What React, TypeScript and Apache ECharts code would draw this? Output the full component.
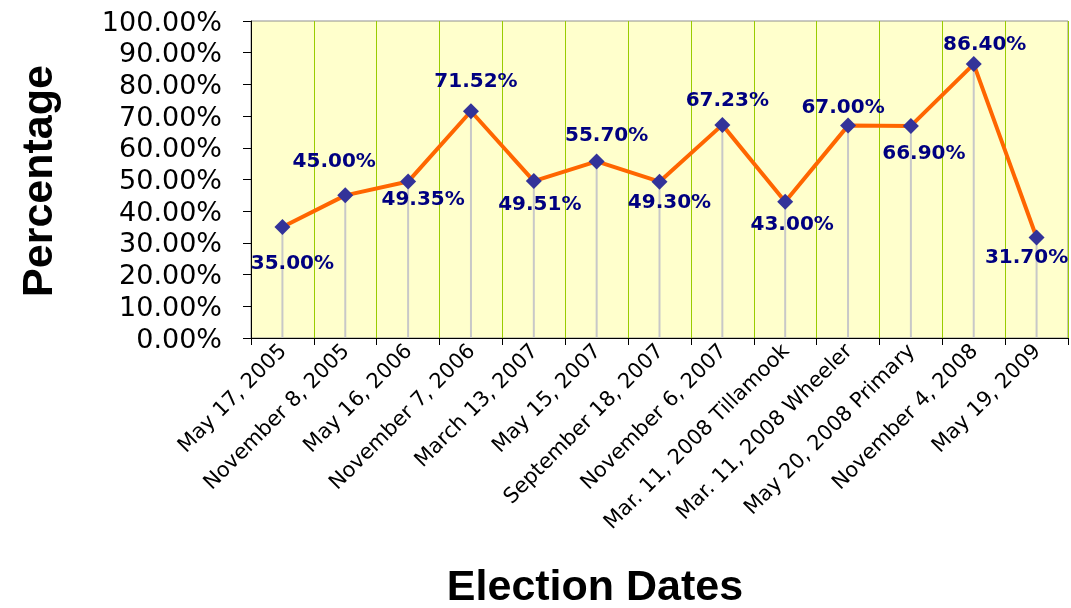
import React, { useEffect, useRef } from "react";
import * as echarts from "echarts";

const categories = [
  "May 17, 2005",
  "November 8, 2005",
  "May 16, 2006",
  "November 7, 2006",
  "March 13, 2007",
  "May 15, 2007",
  "September 18, 2007",
  "November 6, 2007",
  "Mar. 11, 2008 Tillamook",
  "Mar. 11, 2008 Wheeler",
  "May 20, 2008 Primary",
  "November 4, 2008",
  "May 19, 2009",
];

const turnout = [35.0, 45.0, 49.35, 71.52, 49.51, 55.7, 49.3, 67.23, 43.0, 67.0, 66.9, 86.4, 31.7];

const labelOffsets: [number, number][] = [
  [10, 35], [-11, -35], [15, 16], [5, -31], [6, 22], [10, -27], [10, 19],
  [5, -26], [7, 21], [-5, -20], [13, 26], [11, -21], [-10, 18],
];

const yTicks = { min: 0, max: 100, interval: 10 };

export default function App() {
  const ref = useRef<HTMLDivElement>(null);
  useEffect(() => {
    if (!ref.current) return;
    const chart = echarts.init(ref.current, null, { renderer: "svg" });
    const fontFamily = "'DejaVu Sans', 'Liberation Sans', Arial, sans-serif";
    chart.setOption({
      animation: false,
      textStyle: { fontFamily },
      grid: {
        left: 251,
        top: 21,
        right: 3,
        bottom: 270,
        containLabel: false,
        show: true,
        backgroundColor: "#ffffcc",
        borderColor: "#909090",
        borderWidth: 1,
      },
      xAxis: {
        type: "category",
        data: categories,
        boundaryGap: true,
        axisLine: { show: true, lineStyle: { color: "#000", width: 1 } },
        axisTick: { show: true, length: 7, interval: 0, lineStyle: { color: "#000" } },
        axisLabel: {
          interval: 0,
          rotate: 45,
          margin: 9,
          fontSize: 21,
          color: "#000",
          fontFamily,
        },
        splitLine: { show: true, interval: 0, lineStyle: { color: "#99cc00", width: 1 } },
      },
      yAxis: {
        type: "value",
        min: yTicks.min,
        max: yTicks.max,
        interval: yTicks.interval,
        axisLine: { show: true, lineStyle: { color: "#000", width: 1 } },
        axisTick: { show: true, length: 8, inside: false, lineStyle: { color: "#000" } },
        axisLabel: {
          margin: 29,
          fontSize: 27,
          color: "#000",
          fontFamily,
          formatter: (v: number) => v.toFixed(2) + "%",
        },
        splitLine: { show: false },
      },
      series: [
        {
          type: "bar",
          data: turnout,
          barWidth: 2,
          silent: true,
          itemStyle: { color: "#c8c8c8" },
          z: 1,
        },
        {
          type: "line",
          data: turnout.map((v, i) => ({
            value: v,
            label: {
              show: true,
              position: "inside",
              offset: labelOffsets[i],
            },
          })),
          symbol: "diamond",
          symbolSize: 16,
          lineStyle: { color: "#ff6600", width: 4 },
          itemStyle: { color: "#333399" },
          label: {
            show: true,
            fontSize: 20,
            fontWeight: "bold",
            color: "#000080",
            fontFamily,
            formatter: (p: any) => p.value.toFixed(2) + "%",
          },
          z: 3,
        },
      ],
      graphic: [
        {
          type: "text",
          x: 37,
          y: 181,
          rotation: Math.PI / 2,
          style: {
            text: "Percentage",
            font: "bold 43px 'Liberation Sans', Arial, sans-serif",
            fill: "#000",
            align: "center",
            verticalAlign: "middle",
          },
        },
        {
          type: "text",
          x: 595,
          y: 585,
          style: {
            text: "Election Dates",
            font: "bold 43px 'Liberation Sans', Arial, sans-serif",
            fill: "#000",
            align: "center",
            verticalAlign: "middle",
          },
        },
      ],
    });
    return () => chart.dispose();
  }, []);
  return (
    <div
      ref={ref}
      style={{ position: "fixed", left: 0, top: 0, width: 1071, height: 608 }}
    />
  );
}
